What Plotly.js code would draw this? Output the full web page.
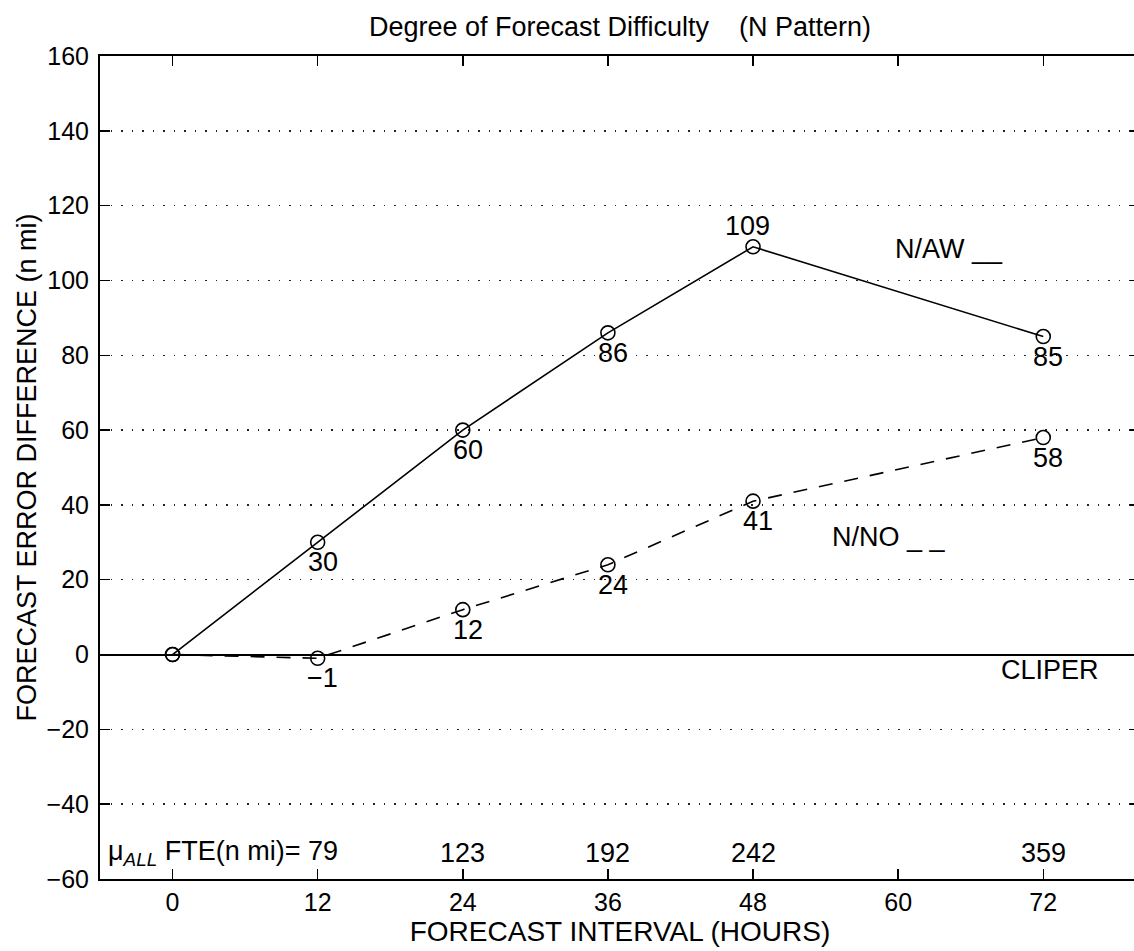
<!DOCTYPE html>
<html>
<head>
<meta charset="utf-8">
<script src="https://cdn.plot.ly/plotly-3.0.1.min.js"></script>
<style>
html, body { margin: 0; padding: 0; overflow: hidden; background: #fff; }
#chart { width: 1140px; height: 951px; }
</style>
</head>
<body>
<div id="chart"></div>
<script>
// ---- data ----
const hours = [0, 12, 24, 36, 48, 72];
const nawDiff = [0, 30, 60, 86, 109, 85];   // N/AW  (solid)
const nnoDiff = [0, -1, 12, 24, 41, 58];    // N/NO  (dashed)
const fteHours = [12, 24, 36, 48, 72];
const fteValues = [79, 123, 192, 242, 359];
const xTickVals = [0, 12, 24, 36, 48, 60, 72];
const yTickVals = [-60, -40, -20, 0, 20, 40, 60, 80, 100, 120, 140, 160];
const seriesNames = ['N/AW __', 'N/NO _ _', 'CLIPER'];

const FAM = 'Liberation Sans, Arial, Helvetica, sans-serif';
const fmt = v => String(v).replace('-', '\u2212');

const traces = [
  {
    x: hours, y: nawDiff, type: 'scatter', mode: 'lines+markers', name: 'N/AW',
    line: { color: '#000', width: 1.6 },
    marker: { symbol: 'circle-open', size: 14, color: '#000', line: { width: 1.6, color: '#000' } },
    hoverinfo: 'x+y'
  },
  {
    x: hours, y: nnoDiff, type: 'scatter', mode: 'lines+markers', name: 'N/NO',
    line: { color: '#000', width: 1.6, dash: '14px,12px' },
    marker: { symbol: 'circle-open', size: 14, color: '#000', line: { width: 1.6, color: '#000' } },
    hoverinfo: 'x+y'
  }
];

const annotations = [];
function addLabels(vals) {
  const mx = Math.max(...vals);
  vals.forEach((v, i) => {
    if (i === 0) return;
    const above = v === mx && i !== vals.length - 1;
    annotations.push({
      x: hours[i], y: v, xref: 'x', yref: 'y', text: fmt(v), showarrow: false,
      xanchor: 'center', yanchor: 'middle',
      xshift: above ? -6 : 5, yshift: above ? 21 : -20,
      font: { family: FAM, size: 27, color: '#000' }
    });
  });
}
addLabels(nawDiff);
addLabels(nnoDiff);

// series name labels
const nameFont = { family: FAM, size: 27, color: '#000' };
annotations.push({ x: 59.6, y: 108.4, xref: 'x', yref: 'y', text: seriesNames[0], showarrow: false, xanchor: 'left', yanchor: 'middle', font: nameFont });
annotations.push({ x: 54.4, y: 31.4, xref: 'x', yref: 'y', text: seriesNames[1], showarrow: false, xanchor: 'left', yanchor: 'middle', font: nameFont });
annotations.push({ x: 68.3, y: -4.1, xref: 'x', yref: 'y', text: seriesNames[2], showarrow: false, xanchor: 'left', yanchor: 'middle', font: nameFont });

// mean FTE row
fteValues.forEach((v, i) => {
  if (i === 0) {
    annotations.push({
      x: fteHours[i], y: -53, xref: 'x', yref: 'y',
      text: '\u03BC<sub><i>ALL</i></sub> FTE(n mi)= ' + v, showarrow: false,
      xanchor: 'right', yanchor: 'middle', xshift: 22,
      font: { family: FAM, size: 27, color: '#000' }
    });
  } else {
    annotations.push({
      x: fteHours[i], y: -53, xref: 'x', yref: 'y', text: String(v), showarrow: false,
      xanchor: 'center', yanchor: 'middle',
      font: { family: FAM, size: 27, color: '#000' }
    });
  }
});

const layout = {
  width: 1140, height: 951,
  margin: { l: 100, r: 0, t: 56, b: 72 },
  paper_bgcolor: '#fff', plot_bgcolor: '#fff',
  showlegend: false,
  font: { family: FAM, color: '#000', size: 25 },
  title: {
    text: 'Degree of Forecast Difficulty\u00A0\u00A0\u00A0\u00A0(N Pattern)',
    font: { family: FAM, size: 27, color: '#000' },
    x: 0.5, xref: 'paper', xanchor: 'center',
    y: 1 - 27 / 951, yref: 'container', yanchor: 'middle'
  },
  xaxis: {
    range: [-6, 80],
    tickvals: xTickVals, ticktext: xTickVals.map(String),
    ticks: 'inside', ticklen: 10, tickwidth: 1.5, tickcolor: '#000',
    showline: true, linecolor: '#000', linewidth: 2, mirror: 'ticks',
    showgrid: false, zeroline: false,
    tickfont: { family: FAM, size: 25, color: '#000' },
    ticklabelstandoff: 0,
    title: { text: 'FORECAST INTERVAL (HOURS)', font: { family: FAM, size: 28, color: '#000' }, standoff: 0 }
  },
  yaxis: {
    range: [-60, 160],
    tickvals: yTickVals, ticktext: yTickVals.map(fmt),
    ticks: 'inside', ticklen: 10, tickwidth: 1.5, tickcolor: '#000',
    showline: true, linecolor: '#000', linewidth: 2, mirror: 'ticks',
    showgrid: true, gridcolor: '#222', gridwidth: 1.5, griddash: '1.5px,9px',
    zeroline: true, zerolinecolor: '#000', zerolinewidth: 2,
    tickfont: { family: FAM, size: 25, color: '#000' },
    ticklabelstandoff: 4,
    title: { text: 'FORECAST ERROR DIFFERENCE (n mi)', font: { family: FAM, size: 27, color: '#000' }, standoff: 2 }
  },
  annotations: annotations
};

Plotly.newPlot('chart', traces, layout, { displayModeBar: false, staticPlot: true });
</script>
</body>
</html>
